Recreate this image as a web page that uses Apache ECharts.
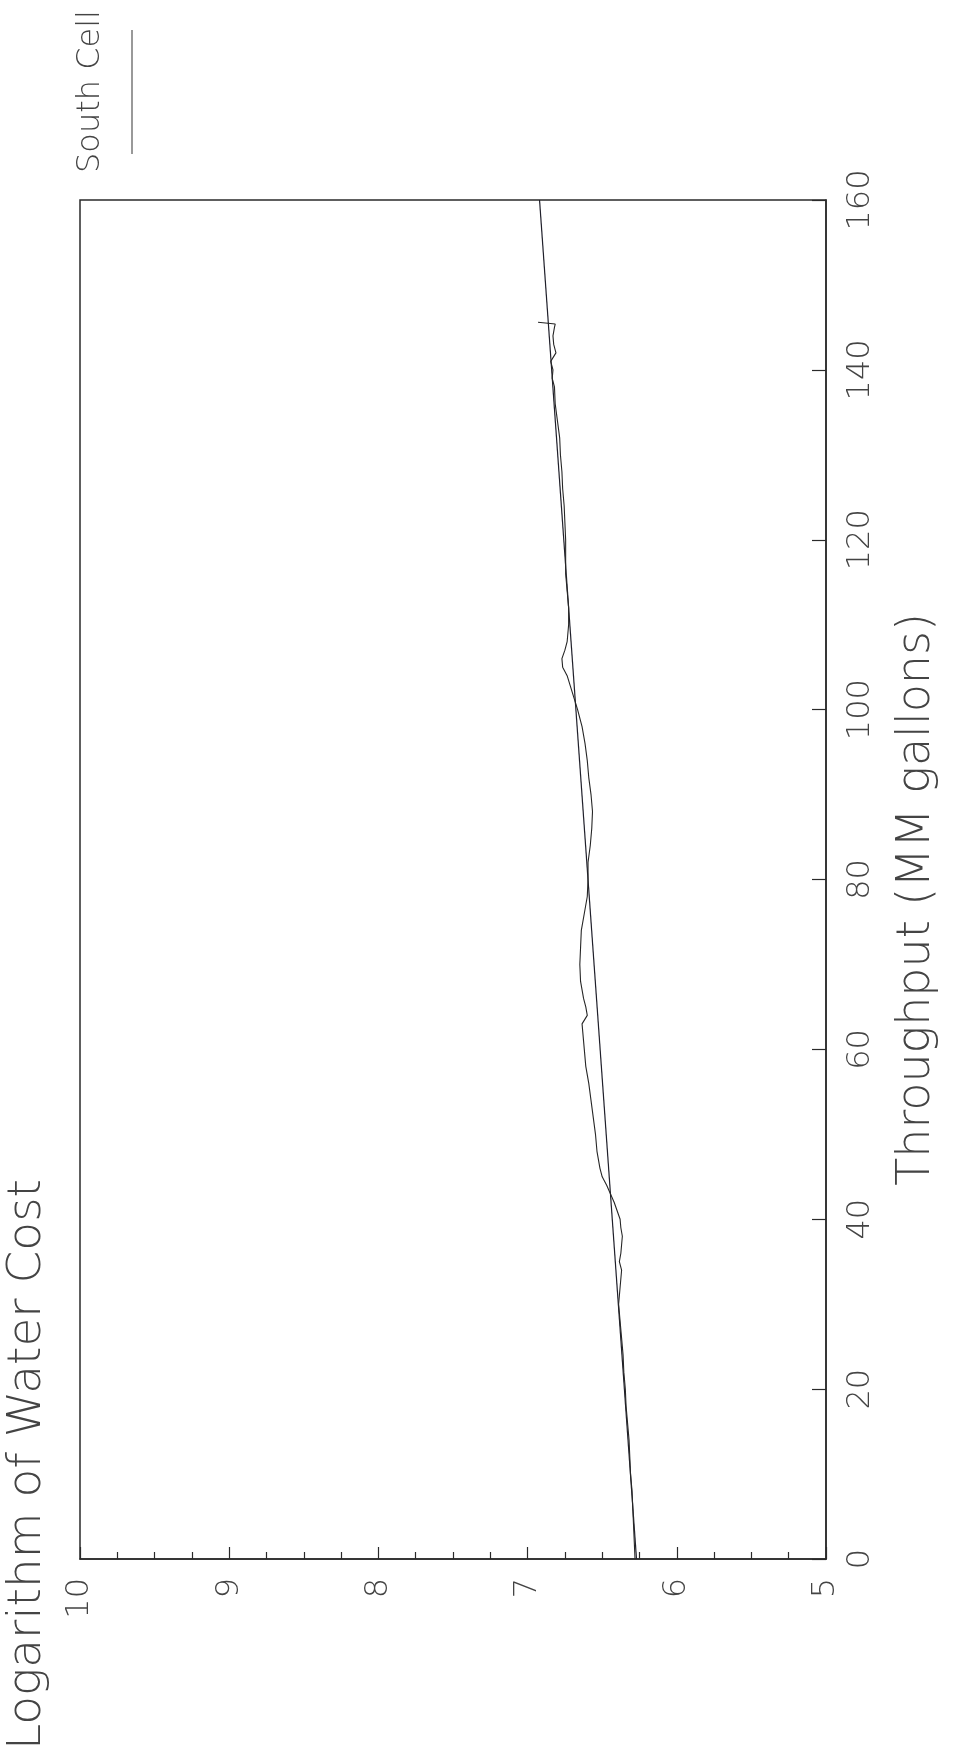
<!DOCTYPE html>
<html>
<head>
<meta charset="utf-8">
<script src="https://cdn.jsdelivr.net/npm/echarts@6/dist/echarts.min.js"></script>
<style>
html,body{margin:0;padding:0;background:#fff;}
#chart{width:953px;height:1762px;}
</style>
</head>
<body>
<div id="chart"></div>
<script>
// ---- data ----
const chartTitle = 'Logarithm of Water Cost';
const throughputTitle = 'Throughput (MM gallons)';
const seriesName = 'South Cell';

// observed series: throughput (MM gallons) and log of water cost
const throughput = [0, 2, 4, 6, 8, 10, 12, 14, 16, 18, 20, 22, 24, 26, 28, 30, 32, 34, 35, 36, 37, 38, 39, 40,
  41, 42, 43, 44, 45, 46, 47, 48, 50, 52, 54, 56, 58, 60, 61, 62, 63, 64, 65, 66, 68, 70, 72, 74, 76, 78, 80,
  82, 84, 86, 88, 90, 92, 94, 96, 98, 100, 102, 104, 105, 106, 107, 108, 110, 112, 114, 116, 118, 120,
  122, 124, 126, 128, 130, 132, 134, 136, 138, 139, 140, 141, 142, 143, 144, 145, 145.4, 145.6];
const logCost = [6.28, 6.285, 6.29, 6.295, 6.30, 6.31, 6.315, 6.32, 6.33, 6.34, 6.345, 6.355, 6.36, 6.37, 6.38, 6.39, 6.38, 6.37, 6.385, 6.375, 6.37, 6.365, 6.375, 6.38,
  6.40, 6.42, 6.445, 6.47, 6.50, 6.515, 6.525, 6.535, 6.545, 6.56, 6.575, 6.59, 6.61, 6.62, 6.625, 6.63, 6.635, 6.60, 6.61, 6.625, 6.645, 6.65, 6.645, 6.64, 6.62, 6.60, 6.595,
  6.595, 6.58, 6.57, 6.565, 6.575, 6.59, 6.60, 6.615, 6.635, 6.665, 6.70, 6.735, 6.765, 6.77, 6.75, 6.735, 6.725, 6.725, 6.735, 6.745, 6.745, 6.745,
  6.75, 6.755, 6.765, 6.77, 6.78, 6.785, 6.80, 6.815, 6.82, 6.835, 6.83, 6.845, 6.81, 6.825, 6.83, 6.82, 6.815, 6.93];

// fitted straight line
const fitThroughput = [0, 160];
const fitLogCost = [6.27, 6.92];

// axes
const costMin = 5, costMax = 10, costStep = 1;
const throughputMin = 0, throughputMax = 160, throughputStep = 20;

// ---- chart ----
const FONT = "'DejaVu Sans', sans-serif";
const TXT = '#444';
const INK = '#2a2a2a';

const chart = echarts.init(document.getElementById('chart'));
chart.setOption({
  backgroundColor: '#fff',
  animation: false,
  grid: { left: 80, right: 127, top: 200, bottom: 203, show: true, borderColor: INK, borderWidth: 1.5, backgroundColor: 'transparent' },
  xAxis: {
    type: 'value', position: 'bottom', inverse: true,
    min: costMin, max: costMax, interval: costStep,
    axisLine: { show: true, lineStyle: { color: INK, width: 1.5 } },
    axisTick: { show: true, inside: true, length: 12, lineStyle: { color: INK, width: 1.2 } },
    minorTick: { show: true, splitNumber: 4, length: 7, lineStyle: { color: INK, width: 1.2 } },
    splitLine: { show: false },
    axisLabel: { rotate: 90, margin: 19, fontSize: 32, fontFamily: FONT, fontWeight: 200, color: TXT, align: 'right', verticalAlign: 'middle' }
  },
  yAxis: {
    type: 'value', position: 'right',
    min: throughputMin, max: throughputMax, interval: throughputStep,
    name: throughputTitle, nameLocation: 'middle', nameRotate: 90, nameGap: 91,
    nameTextStyle: { fontSize: 46, fontFamily: FONT, fontWeight: 200, color: TXT, align: 'center', verticalAlign: 'middle', padding: [0, 40, 0, 0] },
    axisLine: { show: true, lineStyle: { color: INK, width: 1.5 } },
    axisTick: { show: true, inside: true, length: 14, lineStyle: { color: INK, width: 1.2 } },
    splitLine: { show: false },
    axisLabel: { rotate: 90, margin: 19, fontSize: 32, fontFamily: FONT, fontWeight: 200, color: TXT, align: 'center', verticalAlign: 'top' }
  },
  series: [
    {
      name: 'Fitted', type: 'line', symbol: 'none', silent: true,
      lineStyle: { color: '#1f1f2a', width: 1.2 },
      data: fitThroughput.map((t, i) => [fitLogCost[i], t])
    },
    {
      name: seriesName, type: 'line', symbol: 'none', silent: true,
      lineStyle: { color: '#262626', width: 1.1 },
      data: throughput.map((t, i) => [logCost[i], t])
    }
  ],
  graphic: [
    { type: 'text', x: 28, y: 1750, rotation: Math.PI / 2, silent: true,
      style: { text: chartTitle, fontSize: 47, fontFamily: FONT, fontWeight: 200, fill: TXT, align: 'left', verticalAlign: 'middle' } },
    { type: 'text', x: 91, y: 173, rotation: Math.PI / 2, silent: true,
      style: { text: seriesName, fontSize: 32, fontFamily: FONT, fontWeight: 200, fill: TXT, align: 'left', verticalAlign: 'middle' } },
    { type: 'line', silent: true, shape: { x1: 132, y1: 30, x2: 132, y2: 154 }, style: { stroke: '#555', lineWidth: 1.2 } }
  ]
});
</script>
</body>
</html>
